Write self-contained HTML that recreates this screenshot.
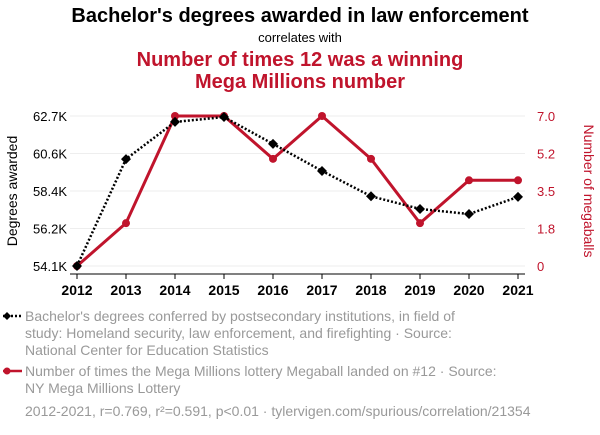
<!DOCTYPE html>
<html><head><meta charset="utf-8">
<style>
body{margin:0;background:#fff;width:600px;height:430px;overflow:hidden;font-family:"Liberation Sans",sans-serif}
svg text{font-family:"Liberation Sans",sans-serif}
</style></head>
<body>
<svg id="chart" width="600" height="430">
<text x="300" y="22" text-anchor="middle" font-size="20" font-weight="bold" fill="#000">Bachelor's degrees awarded in law enforcement</text>
<text x="300" y="42" text-anchor="middle" font-size="13" fill="#000">correlates with</text>
<text x="300" y="66" text-anchor="middle" font-size="20" font-weight="bold" fill="#c0142c">Number of times 12 was a winning</text>
<text x="300" y="88" text-anchor="middle" font-size="20" font-weight="bold" fill="#c0142c">Mega Millions number</text>
<g id="grid"></g><g id="axes"></g><g id="marks"></g>
<text transform="translate(17,191) rotate(-90)" text-anchor="middle" font-size="14" fill="#000">Degrees awarded</text>
<text transform="translate(584,191) rotate(90)" text-anchor="middle" font-size="14" fill="#c0142c">Number of megaballs</text>
<g>
<line x1="3" y1="316" x2="22" y2="316" stroke="#000" stroke-width="2.5" stroke-dasharray="2,2"/>
<path d="M7 312 L11 316 L7 320 L3 316Z" fill="#000"/>
<text x="25" y="321" font-size="14" fill="#999">Bachelor's degrees conferred by postsecondary institutions, in field of</text>
<text x="25" y="338" font-size="14" fill="#999">study: Homeland security, law enforcement, and firefighting · Source:</text>
<text x="25" y="355" font-size="14" fill="#999">National Center for Education Statistics</text>
</g>
<g>
<line x1="3" y1="371" x2="22" y2="371" stroke="#c0142c" stroke-width="2.5"/>
<circle cx="7" cy="371" r="3.5" fill="#c0142c"/>
<text x="25" y="376" font-size="14" fill="#999">Number of times the Mega Millions lottery Megaball landed on #12 · Source:</text>
<text x="25" y="393" font-size="14" fill="#999">NY Mega Millions Lottery</text>
</g>
<text x="25" y="416" font-size="14" fill="#999">2012-2021, r=0.769, r²=0.591, p&lt;0.01 · tylervigen.com/spurious/correlation/21354</text>
</svg>
<script>
const years=[2012,2013,2014,2015,2016,2017,2018,2019,2020,2021];
const degrees=[54.1,60.23,62.36,62.64,61.1,59.55,58.1,57.37,57.08,58.06];
const megaballs=[0,2,7,7,5,7,5,2,4,4];
const leftTicks=[54.1,56.25,58.4,60.55,62.7];
const leftLabels=["54.1K","56.2K","58.4K","60.6K","62.7K"];
const rightTicks=[0,1.75,3.5,5.25,7];
const rightLabels=["0","1.8","3.5","5.2","7.0"];
const NS="http://www.w3.org/2000/svg";
const x=y=>77+(y-2012)*(518-77)/9;
const yl=v=>266-(v-54.1)*150/8.6;
const yr=v=>266-v*150/7;
function mk(t,a,p){const e=document.createElementNS(NS,t);for(const k in a)e.setAttribute(k,a[k]);p.appendChild(e);return e;}
const grid=document.getElementById('grid'),axes=document.getElementById('axes'),marks=document.getElementById('marks');
leftTicks.forEach((v,i)=>{
 const g=mk('line',{x1:70,x2:525,y1:yl(v),y2:yl(v),stroke:'#eee'},grid);
 
 
 const t=mk('text',{x:67,y:yl(v)+5,'text-anchor':'end','font-size':13,fill:'#000'},axes);
 t.textContent=leftLabels[i];
 
 
});
rightTicks.forEach((v,i)=>{
 const t=mk('text',{x:537,y:yr(v)+5,'font-size':13,fill:'#c0142c'},axes);
 t.textContent=rightLabels[i];
 
 
});
years.forEach(yv=>{
 const t=mk('text',{x:x(yv),y:295,'text-anchor':'middle','font-size':14,'font-weight':'bold',fill:'#000'},axes);
 t.textContent=yv;
 
 
 mk('line',{x1:x(yv),x2:x(yv),y1:274,y2:279,stroke:'#000'},axes);
});
const ax=mk('line',{x1:70,x2:525,y1:274,y2:274,stroke:'#000'},axes);


const rl=mk('polyline',{points:years.map((yv,i)=>x(yv)+','+yr(megaballs[i])).join(' '),fill:'none',stroke:'#c0142c','stroke-width':3},marks);


years.forEach((yv,i)=>{
 const c=mk('circle',{cx:x(yv),cy:yr(megaballs[i]),r:4,fill:'#c0142c'},marks);
 
 
});
const bl=mk('polyline',{points:years.map((yv,i)=>x(yv)+','+yl(degrees[i])).join(' '),fill:'none',stroke:'#000','stroke-width':2.5,'stroke-dasharray':'2,2'},marks);


years.forEach((yv,i)=>{
 const cx=x(yv),cy=yl(degrees[i]);
 const d=mk('path',{d:`M${cx} ${cy-5}L${cx+5} ${cy}L${cx} ${cy+5}L${cx-5} ${cy}Z`,fill:'#000'},marks);
 
 
});
</script>
</body></html>
